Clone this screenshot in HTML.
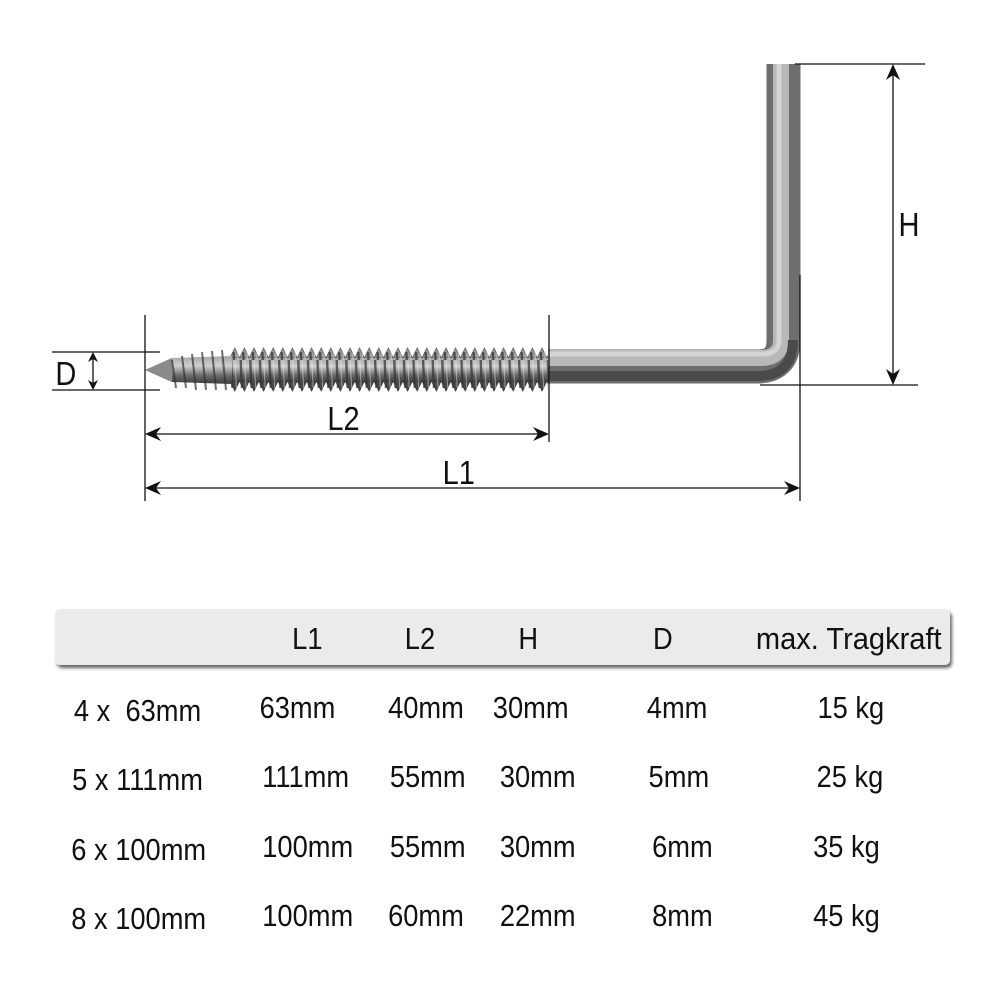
<!DOCTYPE html>
<html><head><meta charset="utf-8"><style>
html,body{margin:0;padding:0;background:#fff;}
svg{display:block;}
text{font-family:"Liberation Sans Narrow","Liberation Sans",sans-serif;fill:#111;}
</style></head><body>
<svg width="1000" height="1000" viewBox="0 0 1000 1000" xmlns="http://www.w3.org/2000/svg">
<defs>
<linearGradient id="th" x1="0" y1="0" x2="0" y2="1">
<stop offset="0" stop-color="#a5a5a5"/><stop offset="0.35" stop-color="#d0d0d0"/><stop offset="0.7" stop-color="#6a6a6a"/><stop offset="1" stop-color="#3c3c3c"/>
</linearGradient>
<pattern id="thr" x="230" y="0" width="9.6" height="60" patternUnits="userSpaceOnUse">
<path d="M1 0 L4 60" stroke="#333" stroke-width="2.4" opacity="0.75"/>
<path d="M5 0 L8 60" stroke="#eee" stroke-width="1" opacity="0.5"/>
</pattern>
<pattern id="teethT" x="230" y="347" width="9.6" height="11" patternUnits="userSpaceOnUse">
<polygon points="0,11 4.8,1 9.6,11" fill="#9a9a9a" stroke="#555" stroke-width="0.8"/>
</pattern>
<pattern id="teethB" x="230" y="381" width="9.6" height="11" patternUnits="userSpaceOnUse">
<polygon points="0,0 4.8,10 9.6,0" fill="#4a4a4a" stroke="#333" stroke-width="0.8"/>
</pattern>
<filter id="sh" x="-5%" y="-20%" width="110%" height="150%"><feDropShadow dx="2" dy="3" stdDeviation="1.5" flood-color="#000" flood-opacity="0.6"/></filter>
</defs>

<!-- hook -->
<path d="M783.5 64 L783.5 340 Q783.5 366.5 757 366.5 L548 366.5" stroke="#6e6e6e" stroke-width="34" fill="none"/>
<path d="M781 64 L781 340 Q781 358 760 358 L548 358" stroke="#b8b8b8" stroke-width="16" fill="none"/>
<path d="M779 64 L779 340 Q779 354 762 354 L548 354" stroke="#d4d4d4" stroke-width="5" fill="none"/>
<path d="M548 376 L757 376 Q793 376 793 340" stroke="#4a4a4a" stroke-width="10" fill="none"/>
<!-- threaded shank -->
<rect x="230" y="358" width="318" height="24" fill="url(#th)"/>
<rect x="230" y="347" width="318" height="11" fill="url(#teethT)"/>
<rect x="230" y="381" width="318" height="11" fill="url(#teethB)"/>
<rect x="230" y="352" width="318" height="36" fill="url(#thr)"/>
<!-- tip -->
<path d="M145 370 L172 358 L232 356 L232 384 L172 382 Z" fill="url(#th)"/>
<path d="M145 370 L172 358 L172 382 Z" fill="#8a8a8a"/>
<path d="M172 360 L176 388 M182 356 L186 388 M192 354 L196 390 M202 352 L206 390 M212 351 L216 390 M222 350 L226 390" stroke="#333" stroke-width="2" opacity="0.7"/>

<!-- dimension lines -->
<g stroke="#111" stroke-width="1.3" fill="none">
<line x1="795" y1="64" x2="925" y2="64"/>
<line x1="760" y1="385" x2="918" y2="385"/>
<line x1="893" y1="66" x2="893" y2="383"/>
<line x1="52" y1="352" x2="160" y2="352"/>
<line x1="52" y1="390" x2="160" y2="390"/>
<line x1="93" y1="354" x2="93" y2="388"/>
<line x1="145" y1="315" x2="145" y2="501"/>
<line x1="549" y1="315" x2="549" y2="442"/>
<line x1="800" y1="275" x2="800" y2="501"/>
<line x1="147" y1="434" x2="547" y2="434"/>
<line x1="147" y1="488" x2="798" y2="488"/>
</g>
<g fill="#111">
<path d="M893 64 L886 80 L893 75 L900 80 Z"/>
<path d="M893 385 L886 369 L893 374 L900 369 Z"/>
<path d="M93 352 L88 362 L93 359 L98 362 Z"/>
<path d="M93 390 L88 380 L93 383 L98 380 Z"/>
<path d="M145 434 L161 427 L156 434 L161 441 Z"/>
<path d="M549 434 L533 427 L538 434 L533 441 Z"/>
<path d="M145 488 L161 481 L156 488 L161 495 Z"/>
<path d="M800 488 L784 481 L789 488 L784 495 Z"/>
</g>
<g font-size="33" transform="scale(0.88,1)">
<text x="1021" y="236">H</text>
<text x="63" y="385">D</text>
<text x="372" y="430">L2</text>
<text x="503" y="484">L1</text>
</g>

<!-- table header -->
<rect x="55" y="609" width="895" height="56" rx="5" fill="#ebebeb" filter="url(#sh)"/>
<g font-size="31" transform="scale(0.88,1)">
<text x="332" y="649">L1</text>
<text x="460" y="649">L2</text>
<text x="589" y="649">H</text>
<text x="742" y="649">D</text>
<text x="859" y="649" textLength="211" lengthAdjust="spacingAndGlyphs">max. Tragkraft</text>

<text x="84" y="721" xml:space="preserve">4 x  63mm</text>
<text x="295" y="718">63mm</text><text x="441" y="718">40mm</text><text x="560" y="718">30mm</text><text x="735" y="718">4mm</text><text x="929" y="718">15 kg</text>

<text x="82" y="790">5 x 111mm</text>
<text x="298" y="787">111mm</text><text x="443" y="787">55mm</text><text x="568" y="787">30mm</text><text x="737" y="787">5mm</text><text x="928" y="787">25 kg</text>

<text x="81" y="860">6 x 100mm</text>
<text x="298" y="857">100mm</text><text x="443" y="857">55mm</text><text x="568" y="857">30mm</text><text x="741" y="857">6mm</text><text x="924" y="857">35 kg</text>

<text x="81" y="929">8 x 100mm</text>
<text x="298" y="926">100mm</text><text x="441" y="926">60mm</text><text x="568" y="926">22mm</text><text x="741" y="926">8mm</text><text x="924" y="926">45 kg</text>
</g>
</svg>
</body></html>
